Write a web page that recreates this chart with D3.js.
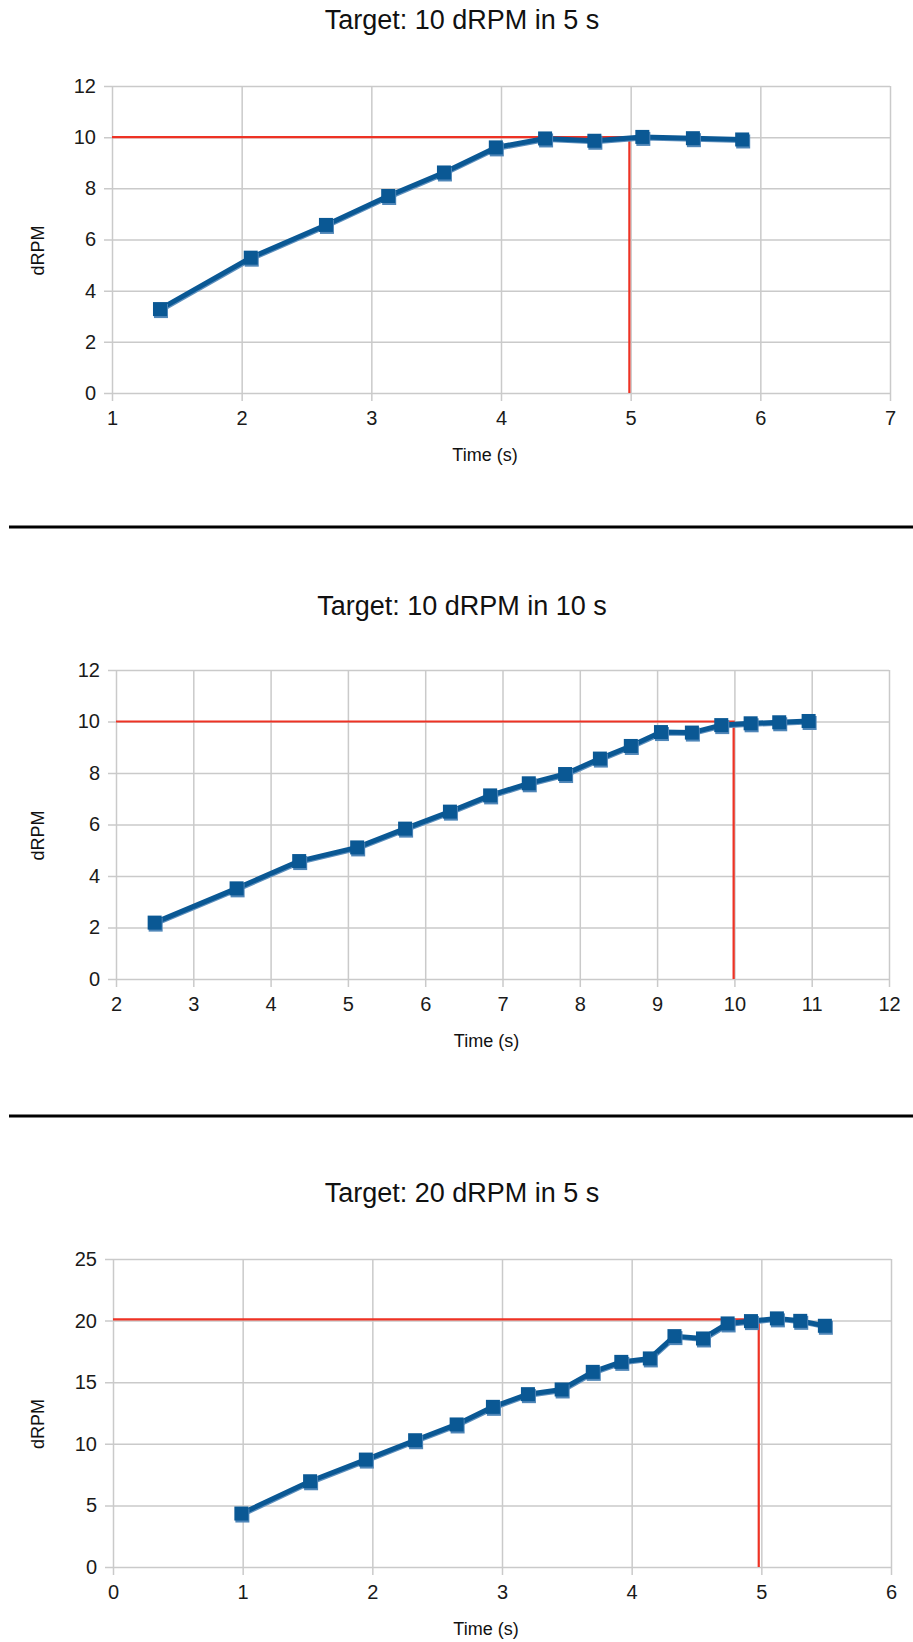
<!DOCTYPE html>
<html>
<head>
<meta charset="utf-8">
<script src="https://cdn.jsdelivr.net/npm/d3@7"></script>
<style>
  body { margin: 0; background: #fff; }
  svg { display: block; font-family: "Liberation Sans", Arial, sans-serif; }
</style>
</head>
<body>
<div id="container"></div>
<script>
/**
 * DATA
 * */
const titles = ["Target: 10 dRPM in 5 s", "Target: 10 dRPM in 10 s", "Target: 20 dRPM in 5 s"]

// run 1
const time1 = [1.37, 2.07, 2.65, 3.13, 3.56, 3.96, 4.34, 4.72, 5.09, 5.48, 5.86]
const rpm1 = [3.28, 5.29, 6.57, 7.70, 8.62, 9.60, 9.95, 9.86, 10.01, 9.96, 9.91]
// run 2
const time2 = [2.50, 3.56, 4.37, 5.12, 5.74, 6.32, 6.84, 7.34, 7.81, 8.26, 8.66, 9.05, 9.45, 9.83, 10.21, 10.58, 10.96]
const rpm2 = [2.19, 3.52, 4.58, 5.11, 5.84, 6.50, 7.13, 7.60, 7.96, 8.56, 9.05, 9.59, 9.57, 9.86, 9.93, 9.97, 10.02]
// run 3
const time3 = [0.99, 1.52, 1.95, 2.33, 2.65, 2.93, 3.20, 3.46, 3.70, 3.92, 4.14, 4.33, 4.55, 4.74, 4.92, 5.12, 5.30, 5.49]
const rpm3 = [4.34, 6.96, 8.72, 10.29, 11.57, 13.0, 14.03, 14.41, 15.84, 16.65, 16.93, 18.74, 18.55, 19.77, 19.96, 20.18, 19.98, 19.58]

// target lines (rpm, time)
const targetRpm = [10, 10, 20.1]
const targetTime = [4.99, 9.99, 4.98]

// axis ranges + ticks
const xDomains = [[1, 7], [2, 12], [0, 6]]
const yDomains = [[0, 12], [0, 12], [0, 25]]
const yTickSteps = [2, 2, 5]

/**
 * LAYOUT
 * */
const W = 913, H = 1642
const panels = [
  { left: 112, top: 86, right: 890, bottom: 393, titleY: 20 },
  { left: 116, top: 670, right: 889, bottom: 979, titleY: 606 },
  { left: 113, top: 1259, right: 891, bottom: 1567, titleY: 1193 },
]
const separators = [527, 1116]
const tickOut = 8
const blue = "#0a5894"
const red = "#ee3224"
const gridColor = "#cacaca"

const series = [
  { t: time1, v: rpm1 },
  { t: time2, v: rpm2 },
  { t: time3, v: rpm3 },
]

const svg = d3.select("#container")
  .append("svg")
  .attr("width", W)
  .attr("height", H)

separators.forEach(y => {
  svg.append("line")
    .attr("x1", 9).attr("x2", W)
    .attr("y1", y).attr("y2", y)
    .attr("stroke", "#000")
    .attr("stroke-width", 3)
})

panels.forEach((p, i) => drawChart(p, i))

function drawChart(p, i) {
  const w = p.right - p.left
  const h = p.bottom - p.top

  const x = d3.scaleLinear().domain(xDomains[i]).range([0, w])
  const y = d3.scaleLinear().domain(yDomains[i]).range([h, 0])

  const xTicks = d3.range(xDomains[i][0], xDomains[i][1] + 1, 1)
  const yTicks = d3.range(yDomains[i][0], yDomains[i][1] + 0.001, yTickSteps[i])
  const fmt = d3.format("d")

  // title
  svg.append("text")
    .attr("x", 462)
    .attr("y", p.titleY)
    .attr("dy", "0.35em")
    .attr("text-anchor", "middle")
    .attr("font-size", 27)
    .attr("fill", "#111")
    .text(titles[i])

  const g = svg.append("g")
    .attr("transform", `translate(${p.left},${p.top})`)

  // y axis + horizontal grid
  const yAxis = g.append("g")
    .attr("transform", `translate(${-tickOut},0)`)
    .call(d3.axisLeft(y).tickValues(yTicks).tickFormat(fmt).tickSize(-(w + tickOut)).tickPadding(8))
  yAxis.select(".domain").remove()
  yAxis.selectAll("line").attr("stroke", gridColor).attr("stroke-width", 1.5)
  yAxis.selectAll("text").attr("font-size", 20).attr("fill", "#1a1a1a").attr("font-family", null)

  // x axis + vertical grid
  const xAxis = g.append("g")
    .attr("transform", `translate(0,${h + tickOut})`)
    .call(d3.axisBottom(x).tickValues(xTicks).tickFormat(fmt).tickSize(-(h + tickOut)).tickPadding(10))
  xAxis.select(".domain").remove()
  xAxis.selectAll("line").attr("stroke", gridColor).attr("stroke-width", 1.5)
  xAxis.selectAll("text").attr("font-size", 20).attr("fill", "#1a1a1a").attr("font-family", null)

  // axis titles
  g.append("text")
    .attr("x", w / 2 - 16)
    .attr("y", h + 62)
    .attr("dy", "0.35em")
    .attr("text-anchor", "middle")
    .attr("font-size", 18)
    .attr("fill", "#111")
    .text("Time (s)")

  g.append("text")
    .attr("transform", `translate(${38 - p.left},${h / 2 + 11}) rotate(-90)`)
    .attr("dy", "0.35em")
    .attr("text-anchor", "middle")
    .attr("font-size", 18)
    .attr("fill", "#111")
    .text("dRPM")

  // target lines
  const tx = x(targetTime[i]), ty = y(targetRpm[i])
  g.append("path")
    .attr("d", `M0,${ty}H${tx}V${h}`)
    .attr("fill", "none")
    .attr("stroke", red)
    .attr("stroke-width", 2.2)

  // data line
  const pts = series[i].t.map((t, k) => [t, series[i].v[k]])
  const line = d3.line().x(d => x(d[0])).y(d => y(d[1]))

  g.append("path")
    .datum(pts)
    .attr("transform", "translate(1,2)")
    .attr("d", line)
    .attr("fill", "none")
    .attr("stroke", "#5d8fbd")
    .attr("stroke-width", 3)
  g.append("path")
    .datum(pts)
    .attr("d", line)
    .attr("fill", "none")
    .attr("stroke", blue)
    .attr("stroke-width", 5)
    .attr("stroke-linejoin", "round")

  const size = 14
  g.selectAll(".mk-shadow")
    .data(pts)
    .join("rect")
    .attr("class", "mk-shadow")
    .attr("x", d => x(d[0]) - size / 2 + 1)
    .attr("y", d => y(d[1]) - size / 2 + 2)
    .attr("width", size)
    .attr("height", size)
    .attr("fill", "#4f86b8")
  g.selectAll(".mk")
    .data(pts)
    .join("rect")
    .attr("class", "mk")
    .attr("x", d => x(d[0]) - size / 2)
    .attr("y", d => y(d[1]) - size / 2)
    .attr("width", size)
    .attr("height", size)
    .attr("fill", blue)
}
</script>
</body>
</html>
